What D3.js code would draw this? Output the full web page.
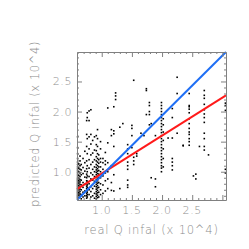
<!DOCTYPE html>
<html>
<head>
<meta charset="utf-8">
<script src="https://cdn.jsdelivr.net/npm/d3@7"></script>
<style>
  body { margin: 0; background: #fff; }
  svg text { font-family: "DejaVu Sans", sans-serif; font-weight: 200; fill: #8c8c8c; }
</style>
</head>
<body>
<div id="chart"></div>
<script>
// real Q_infal columns (x 10^4) and the predicted values in each column
var columnX = [0.60, 0.62, 0.64, 0.66, 0.69, 0.72, 0.75, 0.76, 0.79, 0.82, 0.85, 0.88, 0.91, 0.93, 0.95, 0.98,
    1.02, 1.06, 1.10, 1.16, 1.20, 1.23, 1.30, 1.35, 1.43, 1.50, 1.53, 1.58, 1.65, 1.70, 1.74, 1.79, 1.82, 1.89,
    1.99, 2.02, 2.10, 2.17, 2.25, 2.35, 2.45, 2.52, 2.56, 2.62, 2.70, 2.77, 3.05];
var columnY = [
    [0.56,0.58,0.60,0.62,0.64,0.66,0.68,0.70,0.72,0.74,0.76,0.78,0.80,0.82,0.84,0.86,0.88,0.90,0.93,0.96,0.99,1.02,1.05,1.08,1.12,1.16,1.22,1.30,1.40,1.58],
    [0.57,0.61,0.65,0.69,0.73,0.77,0.81,0.85,0.89,0.94,1.00,1.06,1.13],
    [0.59,0.63,0.67,0.71,0.75,0.79,0.83,0.87,0.92,0.98,1.04,1.10,1.18,1.26],
    [0.55,0.62,0.70,0.78,0.86,0.95,1.03,1.12],
    [0.58,0.66,0.74,0.82,0.97,1.07,1.22],
    [0.60,0.68,0.79,0.91,1.01,1.15,1.34],
    [0.56,0.60,0.64,0.68,0.72,0.76,0.80,0.85,0.90,0.96,1.05,1.18,1.42,1.62,1.85],
    [0.58,0.62,0.66,0.70,0.74,0.78,0.84,0.93,1.00,1.10,1.30,1.55,1.90,1.98],
    [0.62,0.70,0.80,0.92,1.06,1.20,1.38,1.58,1.85,2.01],
    [0.58,0.67,0.75,0.88,0.98,1.12,1.28,1.46,1.62,2.03],
    [0.60,0.72,0.86,0.95,1.04,1.16,1.31,1.52],
    [0.56,0.64,0.76,0.84,0.92,1.00,1.08,1.20,1.36,1.58],
    [0.55,0.59,0.63,0.67,0.71,0.75,0.79,0.83,0.87,0.91,0.95,0.99,1.03,1.07,1.12,1.18,1.25,1.35,1.45,1.60],
    [0.57,0.61,0.65,0.69,0.73,0.77,0.81,0.85,0.89,0.93,0.97,1.01,1.05,1.10,1.16,1.22,1.30,1.42,1.55,1.70],
    [0.58,0.66,0.74,0.82,0.90,0.96,1.02,1.08,1.14,1.20,1.28],
    [0.62,0.70,0.80,0.90,1.00,1.08,1.16,1.22,1.38,1.50],
    [0.64,0.78,0.93,1.04,1.15,1.22],
    [0.68,0.85,0.98,1.12,1.18,1.32],
    [0.72,0.88,1.00,1.15,1.48,2.06],
    [0.69,0.82,1.10,1.60,1.70],
    [0.68,0.95,1.42,1.63,1.68,2.08],
    [2.20,2.26,2.31],
    [0.72,1.74],
    [1.80],
    [0.74,0.78,0.86,1.04,1.10,1.16,1.30,1.38,1.45],
    [1.40,1.60,1.72,1.77],
    [1.12,1.18,1.24,2.52],
    [1.26,1.30],
    [1.64],
    [1.60],
    [1.95,2.35,2.38],
    [1.78,1.95,2.00,2.10,2.15],
    [0.90,1.80],
    [0.75,0.88,1.60],
    [1.00,1.06,1.10,1.15,1.20,1.25,1.30,1.35,1.40,1.45,1.50,1.55,1.60,1.65,1.70,1.75,1.80,1.85,1.90,1.95,2.00,2.05,2.10,2.15],
    [1.08,1.22,1.38,1.52,1.66,1.78,1.88],
    [1.56],
    [1.03,1.10,1.16,1.22,1.56,1.90,2.05],
    [1.64,2.30,2.57],
    [1.43,1.44],
    [1.44,1.50,1.55,1.62,1.66,1.72,1.80,1.88,1.98,2.04,2.08,2.10,2.30],
    [0.93],
    [0.88,0.96],
    [1.42],
    [1.36,1.42,1.55,1.64,1.82,1.90,1.96,2.03,2.12,2.22,2.27,2.35],
    [1.28],
    [0.98,1.04,2.02,2.10,2.14]
];

// fitted lines, end points [x, y]
var fitRed = [[0.59, 0.71], [3.06, 2.27]];
var fitBlue = [[0.59, 0.53], [3.06, 2.99]];

var xDomain = [0.59, 3.06];
var yDomain = [0.53, 2.99];
var xTickLabels = [1.0, 1.5, 2.0, 2.5];
var yTickLabels = [1.0, 1.5, 2.0, 2.5];

var points = [];
columnX.forEach(function (cx, i) {
    columnY[i].forEach(function (cy) { points.push({x: cx, y: cy}); });
});

var margin = {top: 52, right: 23, bottom: 49, left: 77},
    width = 249 - margin.left - margin.right,
    height = 249 - margin.top - margin.bottom;

var svg = d3.select("#chart")
    .append("svg")
    .attr("width", 249)
    .attr("height", 249)
    .append("g")
    .attr("transform", "translate(" + margin.left + "," + margin.top + ")");

var x = d3.scaleLinear().domain(xDomain).range([0, width]);
var y = d3.scaleLinear().domain(yDomain).range([height, 0]);

function minorTicks(s) {
    return d3.range(Math.ceil(s.domain()[0] * 10), Math.floor(s.domain()[1] * 10) + 1)
        .map(function (v) { return v / 10; });
}
var xMinor = minorTicks(x), yMinor = minorTicks(y);
var isMajor = function (v) { return Math.abs(v * 2 - Math.round(v * 2)) < 1e-6; };

// dots
svg.append("g")
    .selectAll("rect")
    .data(points)
    .enter()
    .append("rect")
    .attr("x", function (d) { return x(d.x) - 0.8; })
    .attr("y", function (d) { return y(d.y) - 0.8; })
    .attr("width", 1.6)
    .attr("height", 1.6)
    .attr("fill", "#000");

// fitted lines
var line = d3.line().x(function (d) { return x(d[0]); }).y(function (d) { return y(d[1]); });
svg.append("path").datum(fitRed).attr("d", line)
    .attr("stroke", "#ff1a1a").attr("stroke-width", 2).attr("fill", "none");
svg.append("path").datum(fitBlue).attr("d", line)
    .attr("stroke", "#1f6ff5").attr("stroke-width", 2).attr("fill", "none");

// axes: ticks point inward on all four sides
function styleAxis(g) {
    g.select(".domain").attr("stroke", "#808080");
    g.selectAll(".tick line").attr("stroke", "#808080");
    g.selectAll(".tick text").remove();
}
var tickLen = function (v) { return isMajor(v) ? 5 : 2; };

var gb = svg.append("g").attr("transform", "translate(0," + height + ")")
    .call(d3.axisBottom(x).tickValues(xMinor).tickSizeOuter(0));
styleAxis(gb);
gb.selectAll(".tick line").attr("y2", function (d) { return -tickLen(d); });

var gt = svg.append("g")
    .call(d3.axisTop(x).tickValues(xMinor).tickSizeOuter(0));
styleAxis(gt);
gt.selectAll(".tick line").attr("y2", function (d) { return tickLen(d); });

var gl = svg.append("g")
    .call(d3.axisLeft(y).tickValues(yMinor).tickSizeOuter(0));
styleAxis(gl);
gl.selectAll(".tick line").attr("x2", function (d) { return tickLen(d); });

var gr = svg.append("g").attr("transform", "translate(" + width + ",0)")
    .call(d3.axisRight(y).tickValues(yMinor).tickSizeOuter(0));
styleAxis(gr);
gr.selectAll(".tick line").attr("x2", function (d) { return -tickLen(d); });

// tick labels
svg.append("g").selectAll("text")
    .data(xTickLabels).enter().append("text")
    .attr("x", function (d) { return x(d); })
    .attr("y", height + 14)
    .attr("text-anchor", "middle")
    .attr("font-size", 11)
    .attr("letter-spacing", 0.6)
    .text(function (d) { return d.toFixed(1); });

svg.append("g").selectAll("text")
    .data(yTickLabels).enter().append("text")
    .attr("x", -5)
    .attr("y", function (d) { return y(d) + 4; })
    .attr("text-anchor", "end")
    .attr("font-size", 11)
    .attr("letter-spacing", 0.6)
    .text(function (d) { return d.toFixed(1); });

// axis titles
svg.append("text")
    .attr("x", width / 2)
    .attr("y", height + 34)
    .attr("text-anchor", "middle")
    .attr("font-size", 11.5)
    .attr("letter-spacing", 0.8)
    .text("real Q infal  (x 10^4)");

svg.append("text")
    .attr("transform", "translate(" + (-38) + "," + (height / 2 - 2) + ") rotate(-90)")
    .attr("text-anchor", "middle")
    .attr("font-size", 11.5)
    .attr("letter-spacing", 0.6)
    .text("predicted Q infal  (x 10^4)");
</script>
</body>
</html>
